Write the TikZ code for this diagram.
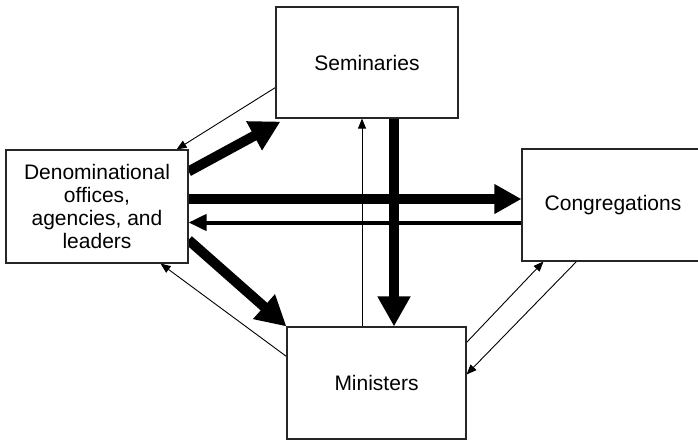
\documentclass[tikz,border=0pt]{standalone}
\usepackage{fontspec}
\setmainfont{Liberation Sans}
\usetikzlibrary{arrows.meta}
\pgfdeclarelayer{back}
\pgfsetlayers{back,main}

\begin{document}
\begin{tikzpicture}[
        x=1pt, y=-1pt,
        % the four boxes
        box/.style={draw=black!85, fill=white, line width=1.1pt,
            minimum width=182pt, minimum height=112pt, inner sep=0pt,
            align=center, font=\fontsize{21}{23.3}\selectfont},
        % flows, from weak to strong
        weaklink/.style={-{Triangle[length=10pt, width=8pt]}, line width=0.9pt},
        midlink/.style={-{Triangle[length=18pt, width=16pt]}, line width=4pt},
        stronglink/.style={-{Triangle[length=30pt, width=31pt]}, line width=10pt},
    ]
    \useasboundingbox (0,0) rectangle (698,440);

    \node [box, minimum height=111pt] (sem) at (367,62.5) {Seminaries};
    \node [box, minimum height=113pt] (den) at (97,206.5) {Denominational\\offices,\\agencies, and\\leaders};
    \node [box] (cong) at (613,205) {Congregations};
    \node [box, minimum width=179pt] (min) at (376.5,383) {Ministers};

    \begin{pgfonlayer}{back}
        % seminaries and denomination
        \draw [weaklink] ([yshift=-25pt]sem.west) -- ([xshift=-12pt]den.north east);
        \draw [stronglink] ([yshift=-22pt]den.north east) -- ([xshift=5pt,yshift=-3pt]sem.south west);
        % denomination and congregations
        \draw [stronglink, -{Triangle[length=27pt, width=28pt]}] ([yshift=7.5pt]den.east) -- ([yshift=7.5pt]den.east -| cong.west);
        \draw [midlink] ([yshift=-16pt]den.east -| cong.west) -- ([yshift=-16pt]den.east);
        % seminaries and ministers
        \draw [weaklink] ([xshift=-5pt]sem.south |- min.north) -- ([xshift=-5pt]sem.south);
        \draw [stronglink] ([xshift=27pt]sem.south) -- ([xshift=27pt]sem.south |- min.north);
        % denomination and ministers
        \draw [stronglink] ([yshift=-33.5pt]den.east) -- (min.north west);
        \draw [weaklink] ([yshift=-30pt]min.north west) -- ([xshift=-28pt]den.south east);
        % ministers and congregations
        \draw [weaklink] ([yshift=-16pt]min.north east) -- ([xshift=22pt]cong.south west);
        \draw [weaklink] ([xshift=55pt]cong.south west) -- ([yshift=-48pt]min.north east);
    \end{pgfonlayer}
\end{tikzpicture}
\end{document}
